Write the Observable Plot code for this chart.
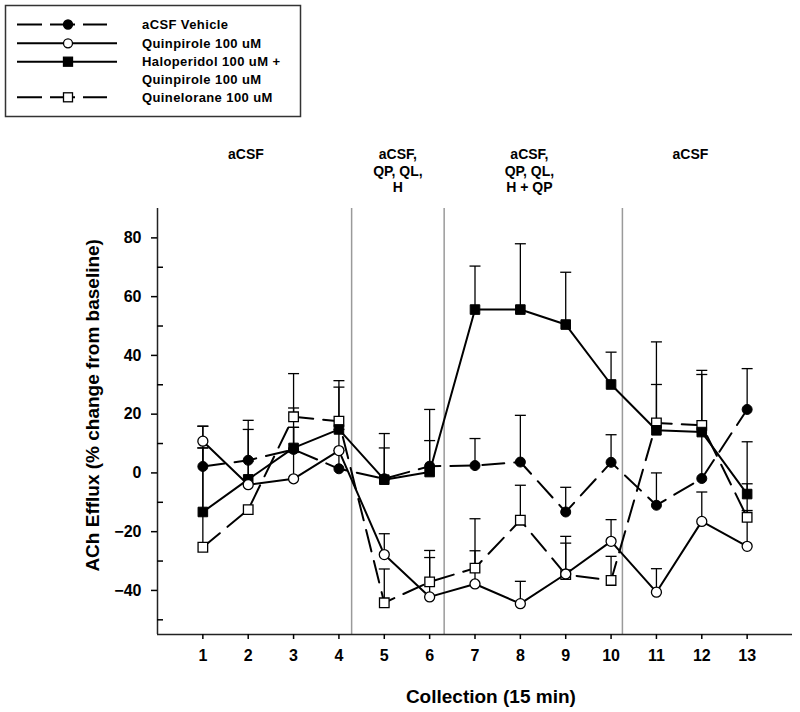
<!DOCTYPE html>
<html>
<head>
<meta charset="utf-8">
<script src="https://cdn.jsdelivr.net/npm/d3@7"></script>
<script src="https://cdn.jsdelivr.net/npm/@observablehq/plot@0.6"></script>
<style>
  html, body { margin: 0; padding: 0; background: #fff; }
  #wrap { position: relative; width: 800px; height: 712px; }
  #legend { position: absolute; left: 0; top: 0; }
</style>
</head>
<body>
<div id="wrap"></div>
<script>
// ---- data ----
const collections = [1, 2, 3, 4, 5, 6, 7, 8, 9, 10, 11, 12, 13];

const seriesNames = ["aCSF Vehicle", "Quinpirole 100 uM", "Haloperidol 100 uM + Quinpirole 100 uM", "Quinelorane 100 uM"];

const vehicleMean  = [2.2, 4.3, 8.0, 1.4, -2.0, 2.3, 2.5, 3.7, -13.3, 3.6, -11.0, -1.9, 21.6];
const vehicleUpper = [8.5, 14.8, 15.5, 7.6, 8.5, 11.0, 11.7, 19.6, -4.9, 13.0, 0.0, 33.5, 35.5];

const quinpiroleMean  = [10.8, -4.0, -2.0, 7.6, -27.8, -42.2, -37.8, -44.5, -34.4, -23.3, -40.6, -16.5, -25.0];
const quinpiroleUpper = [15.9, 17.9, 15.5, 14.8, -20.7, -28.8, -26.5, -36.9, -23.9, -15.9, -32.6, -6.5, -12.8];

const haloMean  = [-13.3, -2.2, 8.5, 14.8, -2.3, 0.3, 55.6, 55.6, 50.5, 30.1, 14.5, 13.9, -7.2];
const haloUpper = [15.9, 4.0, 22.1, 29.2, 13.4, 21.6, 70.4, 78.0, 68.3, 41.1, 30.1, 34.9, 10.6];

const quineloraneMean  = [-25.3, -12.5, 19.1, 17.6, -44.2, -37.1, -32.4, -16.1, -34.6, -36.6, 17.0, 16.2, -15.1];
const quineloraneUpper = [8.5, -12.5, 33.8, 31.4, -32.7, -26.4, -15.6, -4.2, -21.6, -28.4, 44.6, 16.2, -3.7];

const phaseBoundaries = [4.28, 6.32, 10.25];
const phaseLabels = ["aCSF", "aCSF,\nQP, QL,\nH", "aCSF,\nQP, QL,\nH + QP", "aCSF"];
const phaseLabelX = [1.95, 5.3, 8.2, 11.75];

const yMajorTicks = [-40, -20, 0, 20, 40, 60, 80];
const yMinorTicks = [-50, -30, -10, 10, 30, 50, 70];

// ---- build table ----
const means = [vehicleMean, quinpiroleMean, haloMean, quineloraneMean];
const uppers = [vehicleUpper, quinpiroleUpper, haloUpper, quineloraneUpper];
const rows = [];
seriesNames.forEach((s, i) => {
  collections.forEach((c, j) => {
    rows.push({series: s, x: c, y: means[i][j], upper: uppers[i][j]});
  });
});
const bars = rows.filter(d => d.upper > d.y);

const dashed = new Set([seriesNames[0], seriesNames[3]]);
const capSymbol = {
  draw(context, size) {
    const w = Math.sqrt(size / Math.PI);
    context.moveTo(-w, 0);
    context.lineTo(w, 0);
  }
};

const W = 800, H = 712, ML = 157, MR = 8, MT = 208, MB = 78;
const plotWidth = W - ML - MR;

const chart = Plot.plot({
  width: W,
  height: H,
  marginLeft: ML,
  marginRight: MR,
  marginTop: MT,
  marginBottom: MB,
  x: {domain: [0, 14]},
  y: {domain: [-55, 90]},
  style: {fontFamily: "'Liberation Sans', Arial, sans-serif", fontSize: "16px", fontWeight: "bold", color: "black", background: "white"},
  marks: [
    Plot.ruleX(phaseBoundaries, {x: d => d, y1: -55, y2: 90, stroke: "#9a9a9a", strokeWidth: 1.5}),
    Plot.ruleX([0], {y1: -55, y2: 90, stroke: "#222", strokeWidth: 1.5}),
    Plot.ruleY([-55], {x1: 0, x2: 14, stroke: "#222", strokeWidth: 1.5}),
    Plot.axisY({ticks: yMajorTicks, tickSize: 6, tickPadding: 10, label: null, strokeWidth: 1.5}),
    Plot.tickY(yMinorTicks, {y: d => d, insetRight: plotWidth - 6, strokeWidth: 1.5}),
    Plot.axisX({ticks: collections, tickSize: 5, tickPadding: 10, label: null, strokeWidth: 1.5}),
    // error bars (upper)
    Plot.link(bars, {x1: "x", x2: "x", y1: "y", y2: "upper", stroke: "black", strokeWidth: 1.3}),
    Plot.dot(bars, {x: "x", y: "upper", symbol: capSymbol, r: 5.5, stroke: "black", strokeWidth: 1.3, fill: "none"}),
    // lines
    Plot.line(rows.filter(d => !dashed.has(d.series)), {x: "x", y: "y", z: "series", stroke: "black", strokeWidth: 2}),
    Plot.line(rows.filter(d => dashed.has(d.series)), {x: "x", y: "y", z: "series", stroke: "black", strokeWidth: 2, strokeDasharray: "22,10"}),
    // symbols
    Plot.dot(rows.filter(d => d.series === seriesNames[3]), {x: "x", y: "y", symbol: "square", r: 5.4, fill: "white", stroke: "black", strokeWidth: 1.3}),
    Plot.dot(rows.filter(d => d.series === seriesNames[2]), {x: "x", y: "y", symbol: "square", r: 5.4, fill: "black", stroke: "black", strokeWidth: 1}),
    Plot.dot(rows.filter(d => d.series === seriesNames[1]), {x: "x", y: "y", r: 5, fill: "white", stroke: "black", strokeWidth: 1.3}),
    Plot.dot(rows.filter(d => d.series === seriesNames[0]), {x: "x", y: "y", r: 5, fill: "black", stroke: "black", strokeWidth: 1}),
    // phase labels
    Plot.text(phaseLabels, {x: (d, i) => phaseLabelX[i], text: d => d, frameAnchor: "top", lineAnchor: "top", dy: -61, fontSize: 14, lineHeight: 1.18}),
    // axis titles
    Plot.text(["Collection (15 min)"], {x: 7.35, text: d => d, frameAnchor: "bottom", lineAnchor: "middle", dy: 62, fontSize: 19, letterSpacing: "0.3px"}),
    Plot.text(["ACh Efflux (% change from baseline)"], {y: 23, text: d => d, frameAnchor: "left", textAnchor: "middle", lineAnchor: "middle", rotate: -90, dx: -65, fontSize: 19})
  ]
});

const wrap = document.getElementById("wrap");
wrap.appendChild(chart);

// ---- legend (top-left box) ----
const leg = d3.create("svg").attr("id", "legend").attr("width", 310).attr("height", 125)
  .style("font-family", "'Liberation Sans', Arial, sans-serif").style("font-weight", "bold")
  .style("font-size", "13px").style("letter-spacing", "0.4px");
leg.append("rect").attr("x", 5.5).attr("y", 5.5).attr("width", 295).attr("height", 111)
  .attr("fill", "white").attr("stroke", "#333").attr("stroke-width", 1.5);
const legendRows = [
  {name: "aCSF Vehicle", y: 24.5, dash: true, sym: "circle", fill: "black"},
  {name: "Quinpirole 100 uM", y: 43.3, dash: false, sym: "circle", fill: "white"},
  {name: "Haloperidol 100 uM +", y: 61.7, dash: false, sym: "square", fill: "black"},
  {name: "Quinelorane 100 uM", y: 97.3, dash: true, sym: "square", fill: "white"}
];
legendRows.forEach(r => {
  const line = leg.append("line").attr("x1", 17).attr("x2", r.dash ? 107 : 117).attr("y1", r.y).attr("y2", r.y)
    .attr("stroke", "black").attr("stroke-width", 2);
  if (r.dash) line.attr("stroke-dasharray", "25,8");
  if (r.sym === "circle") {
    leg.append("circle").attr("cx", 68).attr("cy", r.y).attr("r", 4.5).attr("fill", r.fill).attr("stroke", "black").attr("stroke-width", 1.3);
  } else {
    leg.append("rect").attr("x", 63.5).attr("y", r.y - 4.5).attr("width", 9).attr("height", 9).attr("fill", r.fill).attr("stroke", "black").attr("stroke-width", 1.3);
  }
  leg.append("text").attr("x", 142).attr("y", r.y).attr("dy", "0.35em").text(r.name);
});
leg.append("text").attr("x", 142).attr("y", 79).attr("dy", "0.35em").text("Quinpirole 100 uM");
wrap.appendChild(leg.node());
</script>
</body>
</html>
